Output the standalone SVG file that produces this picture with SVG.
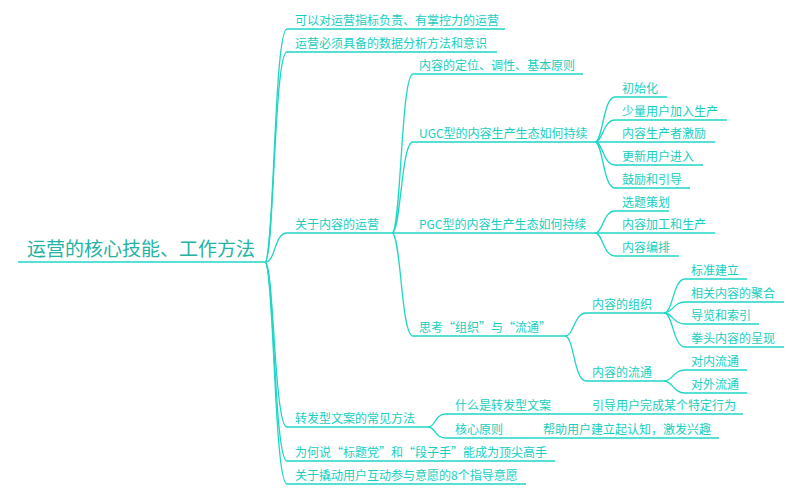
<svg xmlns="http://www.w3.org/2000/svg" width="800" height="495" viewBox="0 0 800 495">
<style>
text{font-family:"Noto Sans CJK SC","Liberation Sans",sans-serif;font-size:12px;fill:#14cfc0}
.root{font-size:19px;fill:#22b3a4}
.c path{fill:none;stroke:#1fd6c6;stroke-width:1.3}
</style>
<rect width="800" height="495" fill="#fff"/>
<g class="c" id="connectors">
<path d="M18,262 L265,262"/>
<path d="M265,262 C274,262 274,29 287,29 L505,29"/>
<path d="M265,262 C274,262 274,52 287,52 L497,52"/>
<path d="M265,262 C276,262 274,233 287,233 L392,233"/>
<path d="M265,262 C274,262 274,427 287,427 L428,427"/>
<path d="M265,262 C274,262 274,461 287,461 L555,461"/>
<path d="M265,262 C274,262 274,484 287,484 L526,484"/>
<path d="M392,233 C401,233 401,74 413,74 L583,74"/>
<path d="M392,233 C401,233 401,142 413,142 L595,142"/>
<path d="M392,233 L595,233"/>
<path d="M392,233 C401,233 401,336 413,336 L565,336"/>
<path d="M595,142 C603,142 603,97 615,97 L667,97"/>
<path d="M595,142 C603,142 603,120 615,120 L727,120"/>
<path d="M595,142 L715,142"/>
<path d="M595,142 C603,142 603,165 615,165 L703,165"/>
<path d="M595,142 C603,142 603,188 615,188 L690,188"/>
<path d="M595,233 C603,233 603,211 615,211 L669,211"/>
<path d="M595,233 L715,233"/>
<path d="M595,233 C603,233 603,256 615,256 L679,256"/>
<path d="M565,336 C574,336 574,313 586,313 L664,313"/>
<path d="M565,336 C574,336 574,381 586,381 L664,381"/>
<path d="M664,313 C673,313 673,279 685,279 L747,279"/>
<path d="M664,313 C673,313 673,302 685,302 L784,302"/>
<path d="M664,313 C673,313 673,324 685,324 L759,324"/>
<path d="M664,313 C673,313 673,347 685,347 L784,347"/>
<path d="M664,381 C673,381 673,370 685,370 L747,370"/>
<path d="M664,381 C673,381 673,393 685,393 L747,393"/>
<path d="M428,427 C436,427 434,414 446,414 L565,414"/>
<path d="M565,414 L743,414"/>
<path d="M428,427 C436,427 434,438 446,438 L530,438"/>
<path d="M530,438 L719,438"/>
</g>
<g id="root"><text class="root" x="27" y="256">运营的核心技能、工作方法</text></g>
<g id="n1"><text x="295" y="25">可以对运营指标负责、有掌控力的运营</text></g>
<g id="n2"><text x="295" y="48">运营必须具备的数据分析方法和意识</text></g>
<g id="n3"><text x="295" y="229">关于内容的运营</text></g>
<g id="n4"><text x="295" y="423">转发型文案的常见方法</text></g>
<g id="n5"><text x="295" y="457">为何说“标题党”和“段子手”能成为顶尖高手</text></g>
<g id="n6"><text x="295" y="480">关于撬动用户互动参与意愿的8个指导意愿</text></g>
<g id="n3a"><text x="419" y="70">内容的定位、调性、基本原则</text></g>
<g id="n3b"><text x="419" y="138">UGC型的内容生产生态如何持续</text></g>
<g id="n3c"><text x="419" y="229">PGC型的内容生产生态如何持续</text></g>
<g id="n3d"><text x="419" y="332">思考“组织”与“流通”</text></g>
<g id="ugc1"><text x="622" y="93">初始化</text></g>
<g id="ugc2"><text x="622" y="116">少量用户加入生产</text></g>
<g id="ugc3"><text x="622" y="138">内容生产者激励</text></g>
<g id="ugc4"><text x="622" y="161">更新用户进入</text></g>
<g id="ugc5"><text x="622" y="184">鼓励和引导</text></g>
<g id="pgc1"><text x="622" y="207">选题策划</text></g>
<g id="pgc2"><text x="622" y="229">内容加工和生产</text></g>
<g id="pgc3"><text x="622" y="252">内容编排</text></g>
<g id="org"><text x="592" y="309">内容的组织</text></g>
<g id="flow"><text x="592" y="377">内容的流通</text></g>
<g id="org1"><text x="691" y="275">标准建立</text></g>
<g id="org2"><text x="691" y="298">相关内容的聚合</text></g>
<g id="org3"><text x="691" y="320">导览和索引</text></g>
<g id="org4"><text x="691" y="343">拳头内容的呈现</text></g>
<g id="flow1"><text x="691" y="366">对内流通</text></g>
<g id="flow2"><text x="691" y="389">对外流通</text></g>
<g id="fw1"><text x="455" y="410">什么是转发型文案</text></g>
<g id="fw1a"><text x="592" y="410">引导用户完成某个特定行为</text></g>
<g id="fw2"><text x="455" y="434">核心原则</text></g>
<g id="fw2a"><text x="543" y="434">帮助用户建立起认知，激发兴趣</text></g>
</svg>
